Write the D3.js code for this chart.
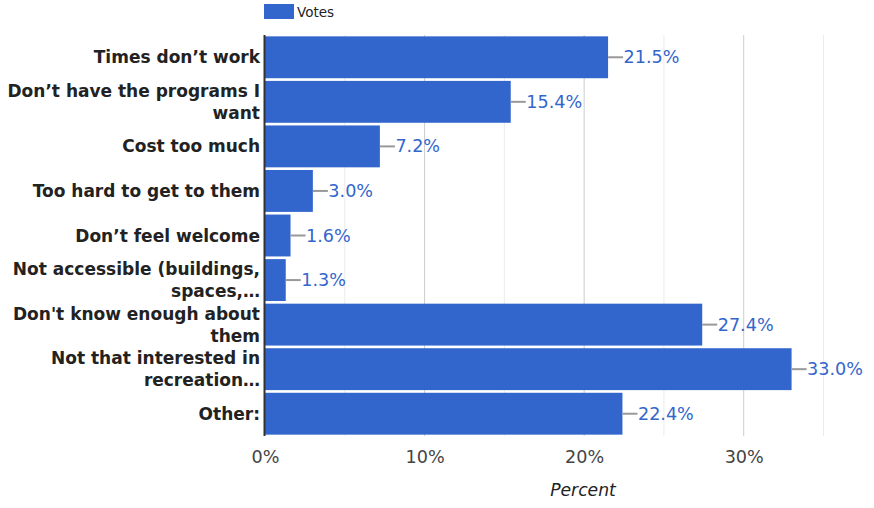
<!DOCTYPE html>
<html>
<head>
<meta charset="utf-8">
<script src="https://cdn.jsdelivr.net/npm/d3@7"></script>
<style>
  html, body { margin: 0; padding: 0; background: #fff; }
  svg { display: block; font-family: "DejaVu Sans", sans-serif; }
</style>
</head>
<body>
<svg id="chart" width="874" height="508"></svg>
<script>
// Survey responses: reasons for not using recreation programs
const categories = [
  "Times don’t work",
  "Don’t have the programs I want",
  "Cost too much",
  "Too hard to get to them",
  "Don’t feel welcome",
  "Not accessible (buildings, spaces,…",
  "Don't know enough about them",
  "Not that interested in recreation…",
  "Other:"
];
const votes = [21.5, 15.4, 7.2, 3.0, 1.6, 1.3, 27.4, 33.0, 22.4];
const xTicks = [0, 10, 20, 30];
const minorTicks = [5, 15, 25, 35];
const seriesName = "Votes";
const axisTitle = "Percent";

const svg = d3.select("#chart");
const plotLeft = 265, plotRight = 823.5, plotTop = 35, plotBottom = 436;
const barColor = "#3366cc";

const x = d3.scaleLinear().domain([0, 35]).range([plotLeft, plotRight]);
const y = d3.scaleBand().domain(categories).range([plotTop, plotBottom])
  .paddingInner(0.06).paddingOuter(0.03);

// gridlines
svg.append("g").selectAll("line").data(minorTicks).join("line")
  .attr("x1", d => x(d)).attr("x2", d => x(d))
  .attr("y1", plotTop).attr("y2", plotBottom)
  .attr("stroke", "#ebebeb").attr("stroke-width", 1);
svg.append("g").selectAll("line").data(xTicks.filter(d => d > 0)).join("line")
  .attr("x1", d => x(d)).attr("x2", d => x(d))
  .attr("y1", plotTop).attr("y2", plotBottom)
  .attr("stroke", "#cccccc").attr("stroke-width", 1);

// bars
svg.append("g").selectAll("rect").data(votes).join("rect")
  .attr("x", x(0))
  .attr("y", (d, i) => y(categories[i]))
  .attr("width", d => x(d) - x(0))
  .attr("height", y.bandwidth())
  .attr("fill", barColor);

// value labels with leader lines
const lab = svg.append("g").selectAll("g").data(votes).join("g")
  .attr("transform", (d, i) => `translate(${x(d)},${y(categories[i]) + y.bandwidth() / 2})`);
lab.append("line").attr("x1", 0).attr("x2", 15).attr("y1", 0).attr("y2", 0)
  .attr("stroke", "#999").attr("stroke-width", 2);
lab.append("text").attr("x", 15.5).attr("y", 6)
  .attr("font-size", 17.6).attr("fill", barColor)
  .text(d => d.toFixed(1) + "%");

// vertical baseline axis
svg.append("line").attr("x1", plotLeft - 0.5).attr("x2", plotLeft - 0.5)
  .attr("y1", plotTop).attr("y2", plotBottom)
  .attr("stroke", "#333").attr("stroke-width", 2);

// x tick labels
const xAxis = d3.axisBottom(x).tickValues(xTicks).tickFormat(d => d + "%").tickSize(0).tickPadding(0);
const gx = svg.append("g").attr("transform", `translate(0,${plotBottom})`).call(xAxis);
gx.select(".domain").remove();
gx.selectAll("text")
  .attr("dy", null).attr("y", 27)
  .attr("font-size", 17.6).attr("font-family", "DejaVu Sans")
  .attr("fill", "#444");

// axis title
svg.append("text").attr("x", 583).attr("y", 496)
  .attr("text-anchor", "middle").attr("font-size", 17.2)
  .attr("font-style", "italic").attr("fill", "#222")
  .text(axisTitle);

// category labels, wrapped to the label column width
const maxW = 256, lineH = 22;
const cat = svg.append("g").selectAll("text").data(categories).join("text")
  .attr("text-anchor", "end").attr("font-size", 17).attr("font-weight", "bold")
  .attr("fill", "#222");
cat.each(function (d) {
  const t = d3.select(this);
  const words = d.split(" ");
  const lines = [];
  let cur = [];
  const probe = t.append("tspan");
  for (const w of words) {
    const trial = cur.concat(w).join(" ");
    probe.text(trial);
    if (probe.node().getComputedTextLength() > maxW && cur.length) {
      lines.push(cur.join(" "));
      cur = [w];
    } else cur.push(w);
  }
  lines.push(cur.join(" "));
  probe.remove();
  const cy = y(d) + y.bandwidth() / 2;
  const y0 = cy + 6 - (lines.length - 1) * lineH / 2;
  lines.forEach((ln, k) => {
    t.append("tspan").attr("x", 260).attr("y", y0 + k * lineH).text(ln);
  });
});

// legend
const lg = svg.append("g");
lg.append("rect").attr("x", 264).attr("y", 4).attr("width", 30).attr("height", 15).attr("fill", barColor);
lg.append("text").attr("x", 297).attr("y", 17).attr("font-size", 13.5).attr("fill", "#222").text(seriesName);
</script>
</body>
</html>
